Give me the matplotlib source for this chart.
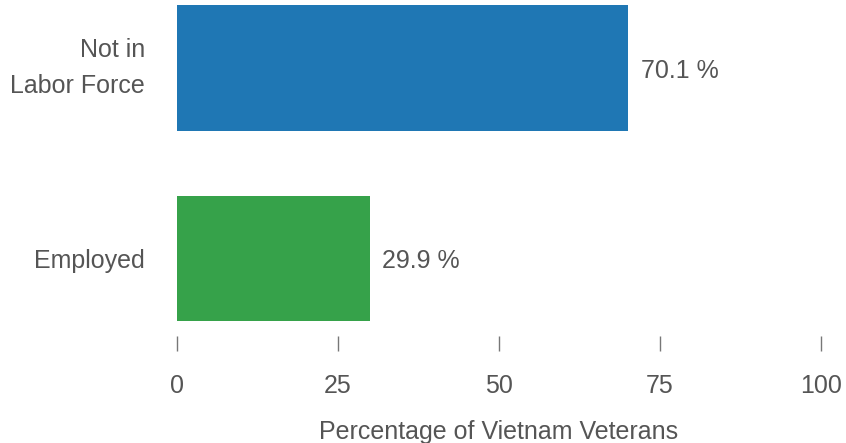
import matplotlib.pyplot as plt
import numpy as np

plt.rcParams['font.family'] = ['Liberation Sans', 'DejaVu Sans']

categories = ['Employed', 'Not in\nLabor Force']
values = [29.9, 70.1]
colors = ['#36a24a', '#1f77b4']
ticks = [0, 25, 50, 75, 100]
grey = '#555555'

fig = plt.figure(figsize=(8.46, 4.43), dpi=100)
ax = fig.add_axes([177 / 846, 1 - 336 / 443, 644 / 846, 336 / 443])

y = np.arange(len(categories))
ax.barh(y, values, height=0.66, color=colors)
for yi, v in zip(y, values):
    ax.text(v + 1.9, yi - 0.015, f'{v} %', va='center', ha='left', fontsize=18, color=grey)

ax.set_xlim(0, 100)
ax.set_ylim(-0.407, 1.357)
ax.set_yticks(y)
labels = ax.set_yticklabels(categories, fontsize=18, color=grey, ha='right', va='center', linespacing=1.6)
labels[0].set_va('center_baseline')
ax.tick_params(axis='y', length=0, pad=23)
ax.set_xticks(ticks)
ax.set_xticklabels([str(t) for t in ticks], fontsize=18, color=grey)
ax.tick_params(axis='x', length=11, width=1, color='#777777', pad=16.5)
ax.set_xlabel('Percentage of Vietnam Veterans', fontsize=18, color=grey, labelpad=16)
for s in ax.spines.values():
    s.set_visible(False)

fig.savefig('out.png', dpi=100)
